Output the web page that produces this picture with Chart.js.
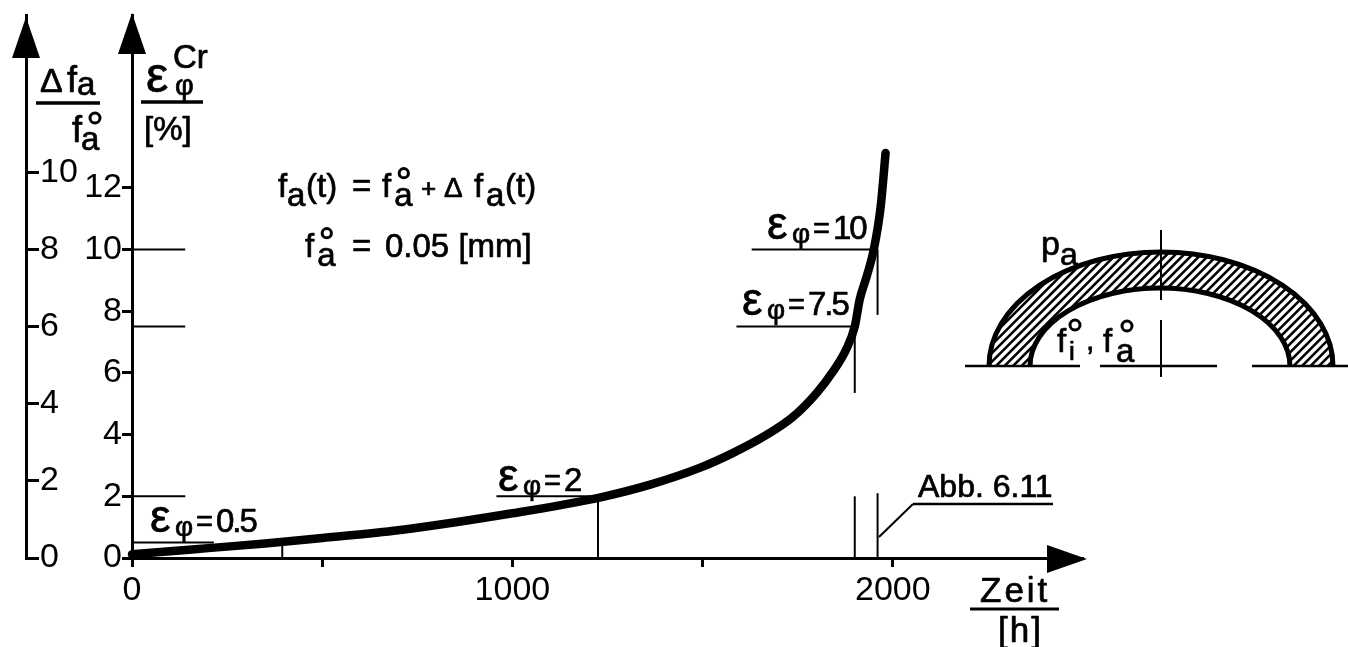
<!DOCTYPE html>
<html><head><meta charset="utf-8">
<style>html,body{margin:0;padding:0;background:#fff;overflow:hidden}canvas{display:block}</style>
<script src="https://cdn.jsdelivr.net/npm/chart.js@4/dist/chart.umd.min.js"></script>
</head><body>
<canvas id="c" width="1348" height="647"></canvas>
<script>
// Creep curve values
const hours = [0,100,200,350,500,700,1000,1229,1360,1492,1579,1668,1737,1800,1842,1879,1900,1913,1931,1950,1968,1981];
const creepPct = [0.12,0.22,0.32,0.47,0.65,0.9,1.45,1.96,2.37,2.92,3.4,3.99,4.57,5.35,6.03,6.8,7.5,8.38,9.11,10,11.38,13.13];
// Axis ticks
const xTicks = [0,500,1000,1500,2000];
const xTickLabels = [0,1000,2000];
const yTicks = [0,2,4,6,8,10,12];
const y2Ticks = [0,2,4,6,8,10];
// Reference marks
const epsLevels = [0.5,2,7.5,10];
const epsTimes = [395,1225,1900,1960];
const epsLabels = ['0.5','2','7.5','10'];
const leaderStart = [0,958,1589,1629];
const FONT = '"Liberation Sans", Arial, sans-serif';
const K = '#000';

function runs(ctx, x, y, list, spacing){
  ctx.textAlign='left'; ctx.textBaseline='alphabetic'; ctx.fillStyle=K;
  ctx.strokeStyle=K; ctx.lineWidth=0.7; ctx.lineJoin='round';
  ctx.letterSpacing=(spacing||0)+'px';
  for(const r of list){
    ctx.font = r[1]+'px '+FONT;
    ctx.fillText(r[0], x+(r[3]||0), y+(r[2]||0));
    ctx.strokeText(r[0], x+(r[3]||0), y+(r[2]||0));
    x += ctx.measureText(r[0]).width + (r[3]||0);
  }
  ctx.letterSpacing='0px';
  return x;
}
function seg(ctx,x1,y1,x2,y2,w){
  ctx.beginPath();ctx.lineWidth=w||2;ctx.strokeStyle=K;ctx.moveTo(x1,y1);ctx.lineTo(x2,y2);ctx.stroke();
}
function tri(ctx,a,b,c){
  ctx.beginPath();ctx.fillStyle=K;ctx.moveTo(a[0],a[1]);ctx.lineTo(b[0],b[1]);ctx.lineTo(c[0],c[1]);ctx.closePath();ctx.fill();
}
function ring(ctx,x,y,r){
  ctx.beginPath();ctx.lineWidth=3;ctx.strokeStyle=K;ctx.arc(x,y,r,0,Math.PI*2);ctx.stroke();
}
function fa0(ctx,x,y,s){ // f with a ring over a subscript a
  runs(ctx,x,y,[['f',s]]);
  runs(ctx,x+s*0.37,y+s*0.27,[['a',s]]);
  ring(ctx,x+s*0.66,y-s*0.72,s*0.14);
}

const drawing = {
  id:'drawing',
  afterDatasetsDraw(chart){
    const ctx=chart.ctx, X=chart.scales.x, Y=chart.scales.y;
    const px=v=>X.getPixelForValue(v), py=v=>Y.getPixelForValue(v);
    ctx.save(); ctx.lineCap='butt';
    // axis arrows
    tri(ctx,[26,17],[12,58],[40,58]);
    tri(ctx,[132,13],[118,54],[146,54]);
    tri(ctx,[1087,559],[1047,545],[1047,573]);

    // reference lines
    epsLevels.forEach((lv,i)=>{
      seg(ctx,px(0),py(lv),px(i===0?215:140),py(lv),2);
      if(i>0) seg(ctx,px(leaderStart[i]),py(lv),px(epsTimes[i]),py(lv),2);
    });
    seg(ctx,px(epsTimes[0]),py(0),px(epsTimes[0]),py(0.5),2);
    seg(ctx,px(epsTimes[1]),py(0),px(epsTimes[1]),py(2),2);
    seg(ctx,px(epsTimes[2]),py(7.5),px(epsTimes[2]),py(5.35),2);
    seg(ctx,px(epsTimes[2]),py(0),px(epsTimes[2]),py(2.0),2);
    seg(ctx,px(epsTimes[3]),py(10),px(epsTimes[3]),py(7.88),2);
    seg(ctx,px(epsTimes[3]),py(0),px(epsTimes[3]),py(2.1),2);
    // leader to Abb. 6.11
    seg(ctx,879,537,913,504,2);
    seg(ctx,913,504,1053,504,2.5);
    runs(ctx,918,497,[['Abb. 6.11',32]]);

    // epsilon labels
    const lp=[[150,532],[498,491],[742,315],[767,239]];
    epsLabels.forEach((t,i)=>{
      const [x,y]=lp[i];
      runs(ctx,x,y,[['ε',46]]);
      runs(ctx,x+25,y+4,[['φ',28]]);
      runs(ctx,x+46,y-1,[['=',29]]);
      runs(ctx,x+66,y,[[t,33]],-2);
    });

    // axis titles
    runs(ctx,40,92,[['Δ',34]]);
    runs(ctx,67,92,[['f',36]]);
    runs(ctx,77,95,[['a',33]]);
    seg(ctx,36,103,100,103,3.5);
    runs(ctx,72,142,[['f',36]]);
    runs(ctx,81,150,[['a',33]]);
    ring(ctx,95,118,5);
    runs(ctx,146,92,[['ε',50]]);
    runs(ctx,175,95,[['φ',29]]);
    runs(ctx,173,68,[['Cr',33]]);
    seg(ctx,141,102,203,102,3.5);
    runs(ctx,144,140,[['[%]',33]]);
    runs(ctx,980,602,[['Zeit',35]],3);
    seg(ctx,970,609,1059,609,3);
    runs(ctx,998,642,[['[h]',35]],2);

    // formulas
    const y1=197, y2=257, fs=33;
    runs(ctx,278,y1,[['f',fs]]);
    runs(ctx,287,y1+9,[['a',fs]]);
    runs(ctx,306,y1,[['(t)',fs]]);
    runs(ctx,352,y1,[['=',fs]]);
    fa0(ctx,382,y1,fs);
    runs(ctx,421,y1,[['+',26]]);
    runs(ctx,444,y1,[['Δ',28]]);
    runs(ctx,474,y1,[['f',fs]]);
    runs(ctx,486,y1+9,[['a',fs]]);
    runs(ctx,505,y1,[['(t)',fs]]);
    fa0(ctx,305,y2,fs);
    runs(ctx,352,y2,[['=',fs]]);
    runs(ctx,385,y2,[['0.05 [mm]',33]]);

    // section sketch
    const cx=1161, by=366;
    const outer=[174,116], inner=[128,76];
    ctx.save();
    ctx.beginPath();
    ctx.ellipse(cx,by,outer[0],outer[1],0,Math.PI,2*Math.PI);
    ctx.ellipse(cx-1,by,inner[0],inner[1],0,2*Math.PI,Math.PI,true);
    ctx.closePath(); ctx.clip();
    ctx.lineWidth=2.6; ctx.strokeStyle=K;
    for(let d=0;d<600;d+=8.5){ctx.beginPath();ctx.moveTo(960+d,by+2);ctx.lineTo(960+d+140,by-138);ctx.stroke();}
    ctx.restore();
    ctx.strokeStyle=K; ctx.lineWidth=5;
    ctx.beginPath();ctx.ellipse(cx,by,outer[0]-2,outer[1]-2,0,Math.PI,2*Math.PI);ctx.stroke();
    ctx.beginPath();ctx.ellipse(cx-1,by,inner[0]+2,inner[1]+2,0,Math.PI,2*Math.PI);ctx.stroke();
    seg(ctx,965,by,1080,by,2.5); seg(ctx,1100,by,1217,by,2.5); seg(ctx,1252,by,1348,by,2.5);
    seg(ctx,cx,230,cx,300,2); seg(ctx,cx,320,cx,377,2);
    runs(ctx,1041,255,[['p',34]]);
    runs(ctx,1060,265,[['a',32]]);
    runs(ctx,1057,352,[['f',33]]);
    runs(ctx,1069,360,[['i',26]]);
    ring(ctx,1075,325,5);
    runs(ctx,1086,350,[[',',30]]);
    runs(ctx,1103,352,[['f',33]]);
    runs(ctx,1116,362,[['a',33]]);
    ring(ctx,1127,326,5);
    ctx.restore();
  }
};

new Chart(document.getElementById('c'),{
  type:'line',
  data:{datasets:[{
    data:hours.map((h,i)=>({x:h,y:creepPct[i]})),
    borderColor:K,borderWidth:8.5,pointRadius:0,
    cubicInterpolationMode:'monotone',borderCapStyle:'round',borderJoinStyle:'round',
    yAxisID:'y',xAxisID:'x',clip:false
  }]},
  options:{
    responsive:false,animation:false,
    layout:{padding:{left:26,right:265,top:15,bottom:0}},
    plugins:{legend:{display:false},tooltip:{enabled:false},title:{display:false}},
    scales:{
      x:{
        type:'linear',position:'bottom',min:0,max:2500,
        afterFit(s){s.height=89;s.paddingLeft=0;s.paddingRight=0;},
        afterBuildTicks(s){s.ticks=xTicks.map(value=>({value}));},
        grid:{drawOnChartArea:false,drawTicks:true,tickLength:9,tickWidth:3,tickColor:K},
        border:{color:K,width:3},
        ticks:{autoSkip:false,maxRotation:0,minRotation:0,color:K,padding:3,
          font:{family:FONT,size:34},
          callback:v=>xTickLabels.includes(v)?String(v):''}
      },
      y:{
        type:'linear',position:'left',weight:0,min:0,max:17.6,
        afterFit(s){s.width=106;s.paddingTop=0;s.paddingBottom=0;},
        afterBuildTicks(s){s.ticks=yTicks.map(value=>({value}));},
        grid:{drawOnChartArea:false,tickLength:10,tickWidth:3,tickColor:K},
        border:{color:K,width:3},
        ticks:{autoSkip:false,color:K,padding:0,font:{family:FONT,size:34},callback:v=>String(v)}
      },
      y2:{
        type:'linear',position:'left',weight:1,min:0,max:14.1,
        afterFit(s){s.width=0;s.paddingTop=0;s.paddingBottom=0;},
        afterBuildTicks(s){s.ticks=y2Ticks.map(value=>({value}));},
        grid:{drawOnChartArea:false,tickLength:-13,tickWidth:3,tickColor:K},
        border:{color:K,width:3},
        ticks:{autoSkip:false,mirror:true,color:K,padding:14,font:{family:FONT,size:34},callback:v=>String(v)}
      }
    }
  },
  plugins:[drawing]
});
</script>
</body></html>
